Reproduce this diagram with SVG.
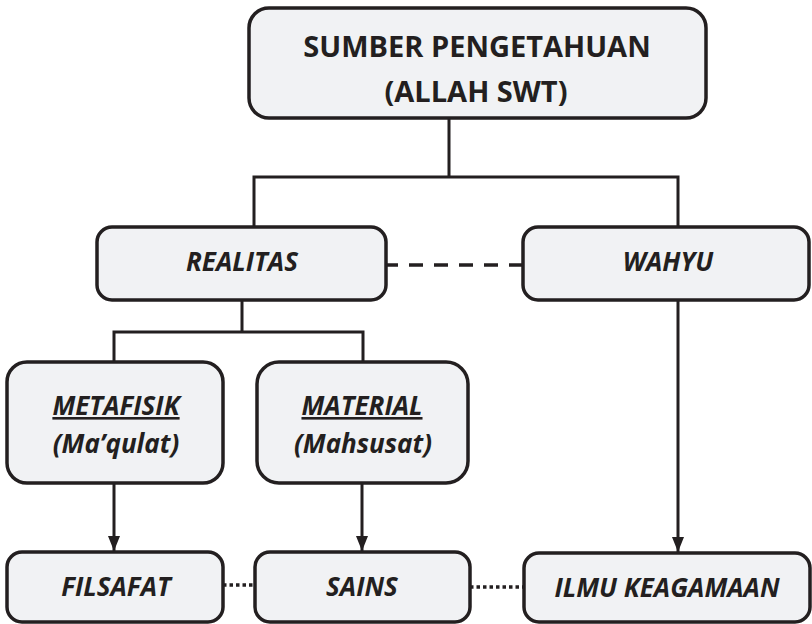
<svg xmlns="http://www.w3.org/2000/svg" width="812" height="624" viewBox="0 0 812 624">
  <style>
    .box { fill: #f1f2f4; stroke: #231f20; stroke-width: 3.5; }
    .ln { fill: none; stroke: #231f20; stroke-width: 3; }
    .dash { fill: none; stroke: #231f20; stroke-width: 3.5; stroke-dasharray: 14 11; }
    .dot { fill: none; stroke: #231f20; stroke-width: 3.5; stroke-dasharray: 3.5 3; }
    text { font-family: "Open Sans", "DejaVu Sans", sans-serif; fill: #231f20; text-anchor: middle; font-weight: bold; }
    .title { font-size: 29px; }
    .lbl { font-size: 26px; font-style: italic; }
    .u { text-decoration: underline; }
  </style>
  <defs>
    <marker id="arrow" markerUnits="userSpaceOnUse" markerWidth="16" markerHeight="12" refX="15" refY="6" orient="auto">
      <path d="M0,0 L15,6 L0,12 Z" fill="#231f20"/>
    </marker>
  </defs>

  <!-- connectors -->
  <g id="connectors">
    <path class="ln" d="M449,118 V177 M254,227 V177 H678 V227"/>
    <path class="dash" d="M523,265 H386"/>
    <path class="ln" d="M242,300 V332 M114,362 V332 H363 V362"/>
    <path class="ln" d="M114,483 V551" marker-end="url(#arrow)"/>
    <path class="ln" d="M362,483 V551" marker-end="url(#arrow)"/>
    <path class="ln" d="M678,300 V552" marker-end="url(#arrow)"/>
    <path class="dot" d="M223,585 H255"/>
    <path class="dot" d="M470,587 H524"/>
  </g>

  <g id="sumber">
    <rect class="box" x="249" y="8" width="457" height="110" rx="20"/>
    <text class="title" x="477" y="57">SUMBER PENGETAHUAN</text>
    <text class="title" x="476" y="102">(ALLAH SWT)</text>
  </g>

  <g id="realitas">
    <rect class="box" x="97" y="227" width="289" height="73" rx="15"/>
    <text class="lbl" x="242" y="271">REALITAS</text>
  </g>

  <g id="wahyu">
    <rect class="box" x="523" y="227" width="286" height="73" rx="15"/>
    <text class="lbl" x="668" y="271">WAHYU</text>
  </g>

  <g id="metafisik">
    <rect class="box" x="7" y="362" width="216" height="121" rx="20"/>
    <text class="lbl u" x="116" y="415">METAFISIK</text>
    <text class="lbl" x="116" y="453">(Ma’qulat)</text>
  </g>

  <g id="material">
    <rect class="box" x="257" y="362" width="211" height="121" rx="22"/>
    <text class="lbl u" x="362" y="415">MATERIAL</text>
    <text class="lbl" x="363" y="453">(Mahsusat)</text>
  </g>

  <g id="filsafat">
    <rect class="box" x="7" y="552" width="216" height="70" rx="15"/>
    <text class="lbl" x="116" y="596">FILSAFAT</text>
  </g>

  <g id="sains">
    <rect class="box" x="255" y="552" width="215" height="70" rx="15"/>
    <text class="lbl" x="362" y="596">SAINS</text>
  </g>

  <g id="ilmu-keagamaan">
    <rect class="box" x="524" y="553" width="286" height="69" rx="15"/>
    <text class="lbl" x="667" y="597">ILMU KEAGAMAAN</text>
  </g>
</svg>
